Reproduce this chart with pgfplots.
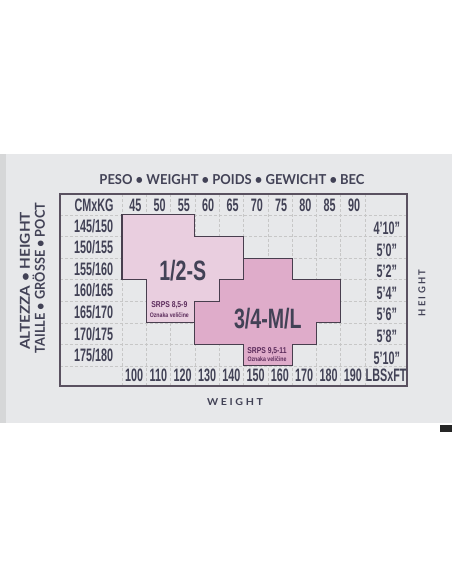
\documentclass[border=0pt]{standalone}
\usepackage{pgfplots}
\pgfplotsset{compat=1.18}
\usepackage{fontspec}
\setmainfont{Liberation Sans}
\newfontfamily\cond[FakeStretch=0.6]{Liberation Sans}
\newfontfamily\condb[FakeStretch=0.7]{Liberation Sans}
\newfontfamily\condc[FakeStretch=0.8]{Liberation Sans}
\newfontfamily\hdr{Lato}
\newfontfamily\hdrsp[LetterSpace=25]{Lato}
\definecolor{ink}{RGB}{66,66,86}
\definecolor{outline}{RGB}{72,62,78}
\definecolor{pinkA}{RGB}{233,206,223}
\definecolor{pinkB}{RGB}{223,172,202}
\definecolor{card}{RGB}{231,232,234}
\definecolor{cardedge}{RGB}{214,215,216}
\definecolor{purp}{RGB}{92,44,92}
\tikzset{cell/.style={text=ink, font=\cond\bfseries\fontsize{18bp}{18bp}\selectfont, text depth=0pt}}
\begin{document}
\begin{tikzpicture}
\fill[white] (0bp,0bp) rectangle (452bp,584bp);
\fill[card] (0bp,161bp) rectangle (452bp,430bp);
\fill[cardedge] (0bp,161bp) rectangle (6bp,430bp);
\fill[black!85] (440bp,152bp) rectangle (452bp,159bp);
% outside titles
\node[text=ink, anchor=center] at (232bp,404bp) {\resizebox{265bp}{10bp}{\hdr\bfseries PESO • WEIGHT • POIDS • GEWICHT • ВЕС}};
\node[text=ink, rotate=90, anchor=center] at (25bp,303bp) {\resizebox{138bp}{10bp}{\hdr\bfseries ALTEZZA • HEIGHT}};
\node[text=ink, rotate=90, anchor=center] at (40bp,306bp) {\resizebox{150bp}{10bp}{\hdr\bfseries TAILLE • GR\smash{Ö}SSE • РОСТ}};
\node[text=ink, rotate=90, anchor=center] at (422bp,291bp) {\resizebox{47bp}{7bp}{\hdrsp\bfseries HEIGHT}};
\node[text=ink, anchor=center] at (235bp,182bp) {\resizebox{56bp}{7bp}{\hdrsp\bfseries WEIGHT}};
\begin{axis}[
  at={(60bp,198bp)}, anchor=south west,
  scale only axis, width=347bp, height=192bp,
  xmin=-2.55, xmax=11.73, ymin=-0.93, ymax=7.97,
  xtick={0,...,10}, ytick={0,...,7},
  xticklabels={}, yticklabels={},
  major tick length=0pt,
  grid=major,
  grid style={densely dashed, black!22, line width=0.4pt},
  axis line style={outline!90, line width=1.1pt},
  clip=false,
]
\addplot[draw=outline, fill=pinkA, line width=1.1pt] coordinates {(0,7) (3,7) (3,6) (5,6) (5,4) (4,4) (4,3) (3,3) (3,2) (1,2) (1,4) (0,4)} -- cycle;
\addplot[draw=outline, fill=pinkB, line width=1.1pt] coordinates {(5,5) (7,5) (7,4) (9,4) (9,2) (8,2) (8,1) (7,1) (7,0) (5,0) (5,1) (3,1) (3,3) (4,3) (4,4) (5,4)} -- cycle;
% header row
\node[cell] at (axis cs:-1.15,7.46) {CMxKG};
\node[cell] at (axis cs:0.55,7.46) {45};
\node[cell] at (axis cs:1.55,7.46) {50};
\node[cell] at (axis cs:2.55,7.46) {55};
\node[cell] at (axis cs:3.55,7.46) {60};
\node[cell] at (axis cs:4.55,7.46) {65};
\node[cell] at (axis cs:5.55,7.46) {70};
\node[cell] at (axis cs:6.55,7.46) {75};
\node[cell] at (axis cs:7.55,7.46) {80};
\node[cell] at (axis cs:8.55,7.46) {85};
\node[cell] at (axis cs:9.55,7.46) {90};
% bottom row
\node[cell] at (axis cs:0.5,-0.45) {100};
\node[cell] at (axis cs:1.5,-0.45) {110};
\node[cell] at (axis cs:2.5,-0.45) {120};
\node[cell] at (axis cs:3.5,-0.45) {130};
\node[cell] at (axis cs:4.5,-0.45) {140};
\node[cell] at (axis cs:5.5,-0.45) {150};
\node[cell] at (axis cs:6.5,-0.45) {160};
\node[cell] at (axis cs:7.5,-0.45) {170};
\node[cell] at (axis cs:8.5,-0.45) {180};
\node[cell] at (axis cs:9.5,-0.45) {190};
\node[cell] at (axis cs:10.87,-0.45) {LBSxFT};
% left labels
\node[cell] at (axis cs:-1.17,6.5) {145/150};
\node[cell] at (axis cs:-1.17,5.5) {150/155};
\node[cell] at (axis cs:-1.17,4.5) {155/160};
\node[cell] at (axis cs:-1.17,3.5) {160/165};
\node[cell] at (axis cs:-1.17,2.5) {165/170};
\node[cell] at (axis cs:-1.17,1.5) {170/175};
\node[cell] at (axis cs:-1.17,0.5) {175/180};
% right labels
\node[cell] at (axis cs:10.9,6.38) {4’10”};
\node[cell] at (axis cs:10.9,5.38) {5’0”};
\node[cell] at (axis cs:10.9,4.38) {5’2”};
\node[cell] at (axis cs:10.9,3.38) {5’4”};
\node[cell] at (axis cs:10.9,2.38) {5’6”};
\node[cell] at (axis cs:10.9,1.38) {5’8”};
\node[cell] at (axis cs:10.9,0.38) {5’10”};
% shape labels
\node[text=ink, font=\condb\bfseries\fontsize{28bp}{28bp}\selectfont, text depth=0pt] at (axis cs:2.5,4.45) {1/2-S};
\node[text=ink, font=\condb\bfseries\fontsize{28bp}{28bp}\selectfont, text depth=0pt] at (axis cs:6.0,2.22) {3/4-M/L};
\node[text=purp, font=\condc\bfseries\fontsize{8.5bp}{8.5bp}\selectfont, text depth=0pt, inner sep=0pt] at (axis cs:1.95,2.83) {SRPS 8,5-9};
\node[text=purp, font=\condc\bfseries\fontsize{6.5bp}{6.5bp}\selectfont, text depth=0pt, inner sep=0pt] at (axis cs:1.95,2.38) {Oznaka veličine};
\node[text=purp, font=\condc\bfseries\fontsize{8.5bp}{8.5bp}\selectfont, text depth=0pt, inner sep=0pt] at (axis cs:5.97,0.72) {SRPS 9,5-11};
\node[text=purp, font=\condc\bfseries\fontsize{6.5bp}{6.5bp}\selectfont, text depth=0pt, inner sep=0pt] at (axis cs:5.97,0.3) {Oznaka veličine};
\end{axis}
\end{tikzpicture}
\end{document}
